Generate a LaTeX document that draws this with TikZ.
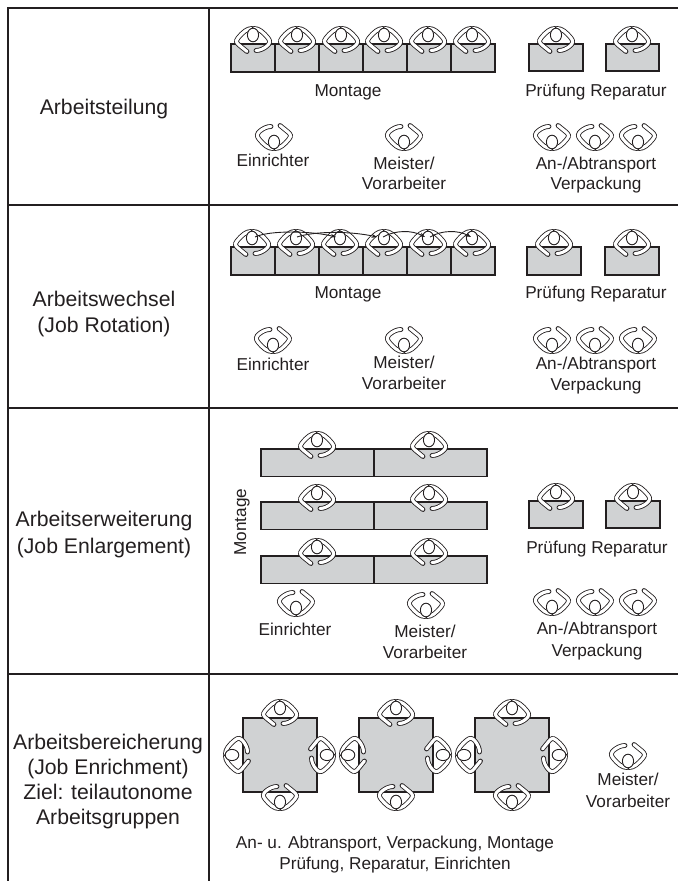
\documentclass[tikz,border=0pt]{standalone}
\usepackage{fontspec}
\setmainfont{Liberation Sans}
\usetikzlibrary{arrows.meta}
\definecolor{deskgray}{HTML}{D0D2D3}
\definecolor{ink}{HTML}{231F20}
\tikzset{
  x=1pt,y=-1pt,
  rule/.style={draw=ink,line width=1.5pt},
  desk/.style={draw=ink,line width=1.4pt,fill=deskgray},
  lab/.style={text=ink,font=\fontsize{17.2}{19}\selectfont,inner sep=0pt,anchor=base},
  head/.style={text=ink,font=\fontsize{21.2}{24}\selectfont,inner sep=0pt,anchor=base},
  rot/.style={-{Stealth[length=5.5pt,width=4pt]},draw=ink,line width=.9pt},
  pics/person/.style={code={
    \foreach \q in {
      {(-1,-6.5) .. controls (-6,-6.5) and (-10,-3) .. (-15,3) .. controls (-17.5,6) and (-16.5,8) .. (-14,10) -- (-6,16.5)},
      {(1,-6.5) .. controls (6,-6.5) and (10,-3) .. (15,3) .. controls (17.5,6) and (17,8.5) .. (14,11) .. controls (11,13.5) and (7,15.5) .. (3,15.5)}}{
      \draw[ink,line width=4.8pt,line cap=round] \q;
      \draw[white,line width=3.1pt,line cap=round] \q;
    }
    \draw[ink,line width=.9pt,fill=white] (0,0) ellipse (5.6 and 6.8);
  }},
}
\begin{document}
\begin{tikzpicture}
\useasboundingbox (0,0) rectangle (678,881);
\coordinate (tl) at (8,8); \coordinate (tr) at (678,8);
\coordinate (bl) at (8,881); \coordinate (bm) at (209,881); \coordinate (tm) at (209,8);
\coordinate (l1) at (8,205); \coordinate (r1) at (678,205);
\coordinate (l2) at (8,408); \coordinate (r2) at (678,408);
\coordinate (l3) at (8,674); \coordinate (r3) at (678,674);
\draw[rule] (bl) -- (tl) -- (tr);
\draw[rule] (tm) -- (bm);
\draw[rule] (l1) -- (r1);
\draw[rule] (l2) -- (r2);
\draw[rule] (l3) -- (r3);
% left headings
\node[head] (h1) at (104,114) {Arbeitsteilung};
\node[head] (h2a) at (104,306) {Arbeitswechsel};
\node[head] (h2b) at (104,332) {(Job Rotation)};
\node[head] (h3a) at (104,526) {Arbeitserweiterung};
\node[head] (h3b) at (104,553) {(Job Enlargement)};
\node[head] (h4a) at (108,749) {Arbeitsbereicherung};
\node[head] (h4b) at (108,774) {(Job Enrichment)};
\node[head] (h4c) at (108,799) {Ziel: teilautonome};
\node[head] (h4d) at (108,824) {Arbeitsgruppen};
% section 1
\foreach \i in {0,...,5}{ \path[desk] ({231+44*\i},44) rectangle ({275+44*\i},72); }
\foreach \x in {253,297,341,384,428,472}{ \pic at (\x,35) {person}; }
\path[desk] (529,44) rectangle (583,71);
\path[desk] (606,44) rectangle (659,71);
\pic at (556,35) {person}; \pic at (632,35) {person};
\node[lab] (m1) at (348,96) {Montage};
\node[lab] (pr1) at (596,96) {Prüfung Reparatur};
\pic[rotate=180] at (274,142) {person};
\pic[rotate=180] at (404,142) {person};
\foreach \x in {552,595,638}{ \pic[rotate=180] at (\x,142) {person}; }
\node[lab] (e1) at (273,166) {Einrichter};
\node[lab] (ms1) at (404,169) {Meister/};
\node[lab] (v1) at (404,189) {Vorarbeiter};
\node[lab] (an1) at (596,169) {An-/Abtransport};
\node[lab] (vp1) at (596,189) {Verpackung};
% section 2
\foreach \i in {0,...,5}{ \path[desk] ({231+44*\i},247) rectangle ({275+44*\i},275); }
\foreach \x in {252,296,340,384,428,472}{ \pic at (\x,238) {person}; }
\coordinate (a0) at (255,237); \coordinate (a1) at (336,237);
\coordinate (b0) at (297,237); \coordinate (b1) at (377,237);
\coordinate (d0) at (383,237); \coordinate (d1) at (425,237);
\coordinate (e0) at (430,237); \coordinate (e1) at (471,237);
\draw[rot] (a0) .. controls (270,230) and (312,231) .. (a1);
\draw[rot] (b0) .. controls (315,231) and (350,231) .. (b1);
\draw[rot] (d0) .. controls (395,230) and (412,230) .. (d1);
\draw[rot] (e0) .. controls (442,230) and (458,230) .. (e1);
\path[desk] (527,247) rectangle (581,275);
\path[desk] (605,247) rectangle (659,275);
\pic at (554,238) {person}; \pic at (632,238) {person};
\node[lab] (m2) at (348,298) {Montage};
\node[lab] (pr2) at (596,298) {Prüfung Reparatur};
\pic[rotate=180] at (273,345) {person};
\pic[rotate=180] at (404,345) {person};
\foreach \x in {552,595,638}{ \pic[rotate=180] at (\x,345) {person}; }
\node[lab] (e2) at (273,370) {Einrichter};
\node[lab] (ms2) at (404,368) {Meister/};
\node[lab] (v2) at (404,389) {Vorarbeiter};
\node[lab] (an2) at (596,369) {An-/Abtransport};
\node[lab] (vp2) at (596,390) {Verpackung};
% section 3
\foreach \y in {449,502,556}{
  \path[desk] (261,\y) rectangle (374,\y+27.5);
  \path[desk] (374,\y) rectangle (487,\y+27.5);
  \pic at (317,\y-9) {person};
  \pic at (429,\y-9) {person};
}
\node[lab,rotate=90] (m3) at (246,522) {Montage};
\path[desk] (529,501) rectangle (583,528);
\path[desk] (606,501) rectangle (660,528);
\pic at (556,492) {person}; \pic at (633,492) {person};
\node[lab] (pr3) at (597,553) {Prüfung Reparatur};
\pic[rotate=180] at (296,608) {person};
\pic[rotate=180] at (426,610) {person};
\foreach \x in {552,595,638}{ \pic[rotate=180] at (\x,607) {person}; }
\node[lab] (e3) at (295,635) {Einrichter};
\node[lab] (ms3) at (425,637) {Meister/};
\node[lab] (v3) at (425,658) {Vorarbeiter};
\node[lab] (an3) at (597,634) {An-/Abtransport};
\node[lab] (vp3) at (597,656) {Verpackung};
% section 4
\foreach \x in {243,359,475}{
  \path[desk] (\x,718) rectangle (\x+74,792);
  \pic at (\x+37,708) {person};
  \pic[rotate=180] at (\x+37,802) {person};
  \pic[rotate=90] at (\x-11,755) {person};
  \pic[rotate=-90] at (\x+84,755) {person};
}
\pic[rotate=180] at (628,761) {person};
\node[lab] (ms4) at (628,785) {Meister/};
\node[lab] (v4) at (628,807) {Vorarbeiter};
\node[lab] (t1) at (395,848) {An- u. Abtransport, Verpackung, Montage};
\node[lab] (t2) at (395,869) {Prüfung, Reparatur, Einrichten};
\end{tikzpicture}
\end{document}
